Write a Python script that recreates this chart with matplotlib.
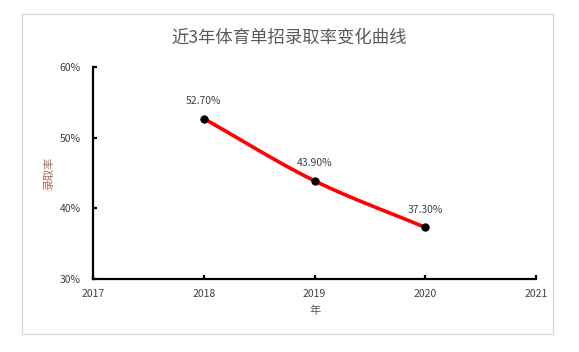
import matplotlib
matplotlib.use("Agg")
import matplotlib.pyplot as plt
import numpy as np
from matplotlib.patches import Rectangle
from matplotlib.ticker import FuncFormatter

plt.rcParams['font.family'] = ['Noto Sans CJK SC', 'DejaVu Sans']

years = [2018, 2019, 2020]
rates = [52.7, 43.9, 37.3]
labels = ['52.70%', '43.90%', '37.30%']
title = '近3年体育单招录取率变化曲线'
xlabel = '年'
ylabel = '录取率'

def catmull_rom(xs, ys, n=40):
    xs = np.asarray(xs, float); ys = np.asarray(ys, float)
    px = np.concatenate([[2*xs[0]-xs[1]], xs, [2*xs[-1]-xs[-2]]])
    py = np.concatenate([[2*ys[0]-ys[1]], ys, [2*ys[-1]-ys[-2]]])
    ox, oy = [], []
    for i in range(1, len(px)-2):
        t = np.linspace(0, 1, n)
        for arr, out in ((px, ox), (py, oy)):
            p0, p1, p2, p3 = arr[i-1], arr[i], arr[i+1], arr[i+2]
            out.extend(0.5*((2*p1) + (-p0+p2)*t + (2*p0-5*p1+4*p2-p3)*t**2 + (-p0+3*p1-3*p2+p3)*t**3))
    return np.array(ox), np.array(oy)

fig = plt.figure(figsize=(5.79, 3.52), dpi=100)
fig.patch.set_facecolor('white')
card = Rectangle((22/579, 1-334/352), (553-22)/579, (334-14)/352,
                 transform=fig.transFigure, facecolor='white',
                 edgecolor='#d9d9d9', linewidth=1.0, zorder=-10)
fig.patches.append(card)

ax = fig.add_axes([93/579, 1-279/352, (536-93)/579, (279-67)/352])
ax.set_zorder(5)
ax.set_facecolor('none')
sx, sy = catmull_rom(years, rates)
ax.plot(sx, sy, color='#ff0000', linewidth=2.6, solid_capstyle='round', zorder=2)
ax.plot(years, rates, 'o', color='black', markersize=5, zorder=3)
for x, y, t in zip(years, rates, labels):
    ax.annotate(t, (x, y), xytext=(0, 9), textcoords='offset points',
                ha='center', va='bottom', fontsize=7.5, color='#404040')

ax.set_xlim(2017, 2021)
ax.set_ylim(30, 60)
ax.set_xticks([2017, 2018, 2019, 2020, 2021])
ax.set_yticks([30, 40, 50, 60])
ax.yaxis.set_major_formatter(FuncFormatter(lambda v, p: f'{int(v)}%'))
for s in ('top', 'right'):
    ax.spines[s].set_visible(False)
for s in ('left', 'bottom'):
    ax.spines[s].set_linewidth(1.6)
    ax.spines[s].set_color('black')
ax.tick_params(direction='in', length=3, width=1.6, labelsize=7.5, labelcolor='#404040')
ax.tick_params(axis='y', pad=9)
ax.tick_params(axis='x', pad=7)
ax.set_xlabel(xlabel, fontsize=8, color='#595959', labelpad=5)
ax.set_ylabel(ylabel, fontsize=8, color='#b06a5e', labelpad=4)

fig.text(0.5, 1-38/352, title, ha='center', va='center', fontsize=12.5, color='#595959')

fig.savefig('out.png', dpi=100)
